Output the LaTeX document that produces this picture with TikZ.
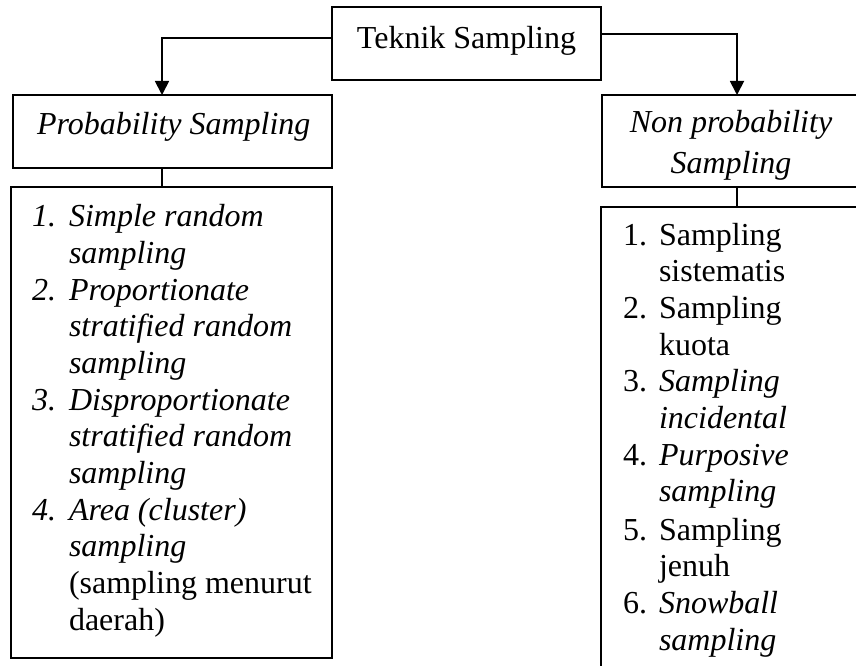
\documentclass[tikz,border=0pt]{standalone}
\usepackage{fontspec}
\setmainfont{Liberation Serif}
\usetikzlibrary{arrows.meta}
\begin{document}
\begin{tikzpicture}[x=1pt,y=-1pt,
  box/.style={draw,line width=1.3pt,inner sep=0pt,outer sep=0pt},
  arr/.style={line width=1.8pt,-{Triangle[width=14pt,length=14pt]}},
  link/.style={line width=1.3pt},
  txt/.style={inner sep=0pt,outer sep=0pt,font=\fontsize{32}{36.7}\selectfont}]
\useasboundingbox (0,0) rectangle (856,666);
\clip (0,0) rectangle (856,666);
% boxes
\node[box,minimum width=269pt,minimum height=73pt] (tek) at (466.5,43.5) {};
\node[box,minimum width=319pt,minimum height=73pt] (prob) at (172.5,131.5) {};
\node[box,minimum width=321pt,minimum height=471pt] (problist) at (171.5,422.5) {};
\node[box,minimum width=270pt,minimum height=92pt] (nonprob) at (737,141) {};
\node[box,minimum width=272pt,minimum height=513pt] (nonlist) at (737,463.5) {};
% connectors
\draw[arr] ([yshift=5.5pt]tek.west) -| ([xshift=-10.5pt]prob.north);
\draw[arr] ([yshift=9.5pt]tek.east) -| (nonprob.north);
\draw[link] ([xshift=-10.5pt]prob.south) -- ([xshift=-9.5pt]problist.north);
\draw[link] (nonprob.south) -- (nonlist.north);
% headings
\node[txt,anchor=base] (tekt) at (466.5,49) {Teknik Sampling};
\node[txt,anchor=base west] (probt) at (37,135) {\itshape Probability Sampling};
\node[txt,anchor=base] (nont1) at (731,132) {\itshape Non probability};
\node[txt,anchor=base] (nont2) at (731,173) {\itshape Sampling};
% left list
\foreach \i/\y/\num/\t in {
  1/226.7/{\itshape 1.}/{\itshape Simple random},
  2/263.3/{}/{\itshape sampling},
  3/300/{\itshape 2.}/{\itshape Proportionate},
  4/336.7/{}/{\itshape stratified random},
  5/373.3/{}/{\itshape sampling},
  6/410/{\itshape 3.}/{\itshape Disproportionate},
  7/446.7/{}/{\itshape stratified random},
  8/483.3/{}/{\itshape sampling},
  9/520/{\itshape 4.}/{\itshape Area (cluster)},
  10/556.7/{}/{\itshape sampling},
  11/593.3/{}/{(sampling menurut},
  12/630/{}/{daerah)}}{
  \node[txt,anchor=base west] (ln\i) at (32,\y) {\num};
  \node[txt,anchor=base west] (lt\i) at (69,\y) {\t};
}
% right list
\foreach \i/\y/\num/\t in {
  1/245/{1.}/{Sampling},
  2/281.7/{}/{sistematis},
  3/318.3/{2.}/{Sampling},
  4/355/{}/{kuota},
  5/391.7/{3.}/{\itshape Sampling},
  6/428.3/{}/{\itshape incidental},
  7/465/{4.}/{\itshape Purposive},
  8/501.7/{}/{\itshape sampling},
  9/540/{5.}/{Sampling},
  10/576.7/{}/{jenuh},
  11/613/{6.}/{\itshape Snowball},
  12/650/{}/{\itshape sampling}}{
  \node[txt,anchor=base west] (rn\i) at (623,\y) {\num};
  \node[txt,anchor=base west] (rt\i) at (659,\y) {\t};
}
\end{tikzpicture}
\end{document}
